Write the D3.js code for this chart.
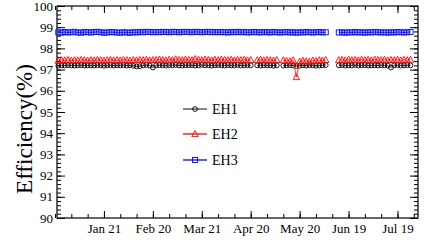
<!DOCTYPE html>
<html><head><meta charset="utf-8">
<script src="https://cdn.jsdelivr.net/npm/d3@7"></script>
<style>body{margin:0;background:#fff}svg{display:block}svg text{font-family:"Liberation Serif" !important}</style>
</head><body><svg id="c" width="425" height="243"></svg>
<script>
// day offsets from 2011-12-24
const days = [0,2,4,6,8,10,12,14,16,18,20,22,24,26,28,30,32,34,36,38,40,42,44,46,48,50,52,54,56,58,60,62,64,66,68,70,72,74,76,78,80,82,84,86,88,90,92,94,96,98,100,102,104,106,108,110,112,114,116,118,120,122,124,126,128,130,132,134,136,138,140,142,144,146,148,150,152,154,156,158,160,162,164,172,174,176,178,180,182,184,186,188,190,192,194,196,198,200,202,204,206,208,210,212,214,216];
const eh1 = [97.18,97.20,97.19,97.21,97.20,97.19,97.20,97.21,97.19,97.20,
97.20,97.19,97.21,97.20,97.18,97.20,97.21,97.19,97.20,97.20,
97.21,97.19,97.20,97.18,97.15,97.16,97.20,97.22,97.19,97.10,
97.20,97.21,97.20,97.19,97.21,97.20,97.22,97.20,97.19,97.21,
97.20,97.21,97.19,97.20,97.22,97.20,97.21,97.19,97.20,97.21,
97.20,97.19,97.21,97.20,97.20,97.22,97.19,97.20,97.21,97.20,
null,97.20,97.19,97.21,97.20,97.20,97.18,97.20,null,97.19,
97.20,97.21,97.19,97.17,97.18,97.20,97.19,97.21,97.20,97.18,
97.19,97.20,97.21,
97.20,97.21,97.19,97.20,97.20,97.22,97.19,97.20,97.21,97.19,97.20,97.20,97.19,97.21,97.20,97.19,97.10,97.20,97.21,97.19,97.20,97.21,97.20];
const eh2 = [97.42,97.45,97.44,97.46,97.43,97.45,97.44,97.46,97.45,97.43,
97.45,97.44,97.46,97.45,97.43,97.45,97.46,97.44,97.45,97.44,
97.46,97.45,97.43,97.45,97.44,97.46,97.45,97.47,97.44,97.45,
97.46,97.48,97.45,97.44,97.47,97.45,97.49,97.46,97.45,97.48,
97.46,97.45,97.50,97.47,97.45,97.48,97.46,97.44,97.47,97.45,
97.48,97.46,97.45,97.47,97.44,97.46,97.45,97.47,97.44,97.46,
null,97.45,97.47,97.44,97.46,97.45,97.43,97.46,null,97.44,
97.42,97.40,97.44,96.65,97.38,97.42,97.40,97.37,97.43,97.41,
97.45,97.43,97.46,
97.45,97.46,97.44,97.47,97.45,97.46,97.44,97.47,97.45,97.46,97.44,97.48,97.46,97.45,97.47,97.44,97.46,97.45,97.47,97.44,97.46,97.45,97.47];
const eh3 = [98.76,98.74,98.77,98.75,98.76,98.78,98.75,98.74,98.77,98.76,
98.75,98.77,98.78,98.76,98.74,98.75,98.77,98.76,98.75,98.74,
98.76,98.75,98.74,98.76,98.75,98.77,98.76,98.78,98.77,98.76,
98.77,98.76,98.78,98.77,98.76,98.78,98.77,98.76,98.77,98.78,
98.77,98.76,98.78,98.77,98.76,98.77,98.78,98.76,98.77,98.76,
98.77,98.76,98.75,98.77,98.76,98.78,98.76,98.77,98.75,98.76,
98.77,98.76,98.75,98.77,98.76,98.75,98.77,98.76,98.75,98.76,
98.77,98.75,98.76,98.74,98.76,98.75,98.77,98.76,98.75,98.76,
98.77,98.75,98.76,
98.75,98.76,98.74,98.76,98.75,98.77,98.75,98.76,98.74,98.76,98.75,98.77,98.76,98.75,98.76,98.74,98.76,98.75,98.77,98.76,98.75,98.76,98.77];
const seriesNames = ["EH1","EH2","EH3"];
const seriesColors = ["#000000","#ff0000","#0000ff"];
const majorDates = ["2012-01-21","2012-02-20","2012-03-21","2012-04-20","2012-05-20","2012-06-19","2012-07-19"];
const majorLabels = ["Jan 21","Feb 20","Mar 21","Apr 20","May 20","Jun 19","Jul 19"];
const yMajor = [90,91,92,93,94,95,96,97,98,99,100];
const yTitle = "Efficiency(%)";

const FONT = "Liberation Serif";
const svg = d3.select("#c");
const L=57, R=418, T=6, B=218;
const start = Date.UTC(2011,11,24);
const DAY = 86400000;
const toDate = d => new Date(start + d*DAY);
const x = d3.scaleUtc().domain([new Date(Date.UTC(2011,11,23,5)), new Date(Date.UTC(2012,6,31,14))]).range([L,R]);
const y = d3.scaleLinear().domain([90,100]).range([B,T]);

const majors = majorDates.map(s=>new Date(s+"T00:00:00Z"));
const minors = [];
for (let t = majors[0].getTime()-3*10*DAY; t <= x.domain()[1].getTime(); t += 10*DAY) minors.push(new Date(t));
const yMinor = d3.range(90,100.001,0.2);

function styleAxis(g){
  g.attr("font-family",null).attr("font-size",null);
  g.select(".domain").remove();
  g.selectAll("line").attr("stroke","#000").attr("stroke-width",1);
  g.selectAll("text").attr("fill","#000").style("font-family",FONT).style("font-size","13px");
}

// x axes
svg.append("g").attr("transform",`translate(0,${B})`).call(d3.axisBottom(x).tickValues(minors).tickSize(-4).tickFormat("")).call(styleAxis);
svg.append("g").attr("transform",`translate(0,${B})`).call(d3.axisBottom(x).tickValues(majors).tickSize(-7).tickPadding(6).tickFormat((d,i)=>majorLabels[i])).call(styleAxis);
svg.append("g").attr("transform",`translate(0,${T})`).call(d3.axisTop(x).tickValues(minors).tickSize(-4).tickFormat("")).call(styleAxis);
svg.append("g").attr("transform",`translate(0,${T})`).call(d3.axisTop(x).tickValues(majors).tickSize(-7).tickFormat("")).call(styleAxis);
// y axes
svg.append("g").attr("transform",`translate(${L},0)`).call(d3.axisLeft(y).tickValues(yMinor).tickSize(-4).tickFormat("")).call(styleAxis);
svg.append("g").attr("transform",`translate(${L},0)`).call(d3.axisLeft(y).tickValues(yMajor).tickSize(-8).tickPadding(4).tickFormat(d3.format("d"))).call(styleAxis);
svg.append("g").attr("transform",`translate(${R},0)`).call(d3.axisRight(y).tickValues(yMinor).tickSize(-4).tickFormat("")).call(styleAxis);
svg.append("g").attr("transform",`translate(${R},0)`).call(d3.axisRight(y).tickValues(yMajor).tickSize(-8).tickFormat("")).call(styleAxis);

svg.append("rect").attr("x",L).attr("y",T).attr("width",R-L).attr("height",B-T).attr("fill","none").attr("stroke","#000").attr("stroke-width",1.2);

svg.append("text").attr("transform",`translate(32,129) rotate(-90)`).attr("text-anchor","middle").style("font-size","23px").style("font-family",FONT).text(yTitle);

function marker(g, i, cx, cy, col){
  if(i===0) g.append("circle").attr("cx",cx).attr("cy",cy).attr("r",2.4).attr("fill","none").attr("stroke",col).attr("stroke-width",0.9);
  else if(i===1) g.append("path").attr("d",`M${cx-3.2},${cy+2.6}L${cx+3.2},${cy+2.6}L${cx},${cy-3.4}Z`).attr("fill","none").attr("stroke",col).attr("stroke-width",0.9);
  else g.append("rect").attr("x",cx-2.5).attr("y",cy-2.5).attr("width",5).attr("height",5).attr("fill","none").attr("stroke",col).attr("stroke-width",0.9);
}

const all = [eh1,eh2,eh3];
const plot = svg.append("g");
all.forEach((vals,i)=>{
  const pts = days.map((d,k)=>({d, v:vals[k]}));
  const seg1 = pts.filter(p=>p.d<=164), seg2 = pts.filter(p=>p.d>=172);
  [seg1,seg2].forEach(s=>plot.append("path").attr("d",d3.line().defined(p=>p.v!=null).x(p=>x(toDate(p.d))).y(p=>y(p.v))(s)).attr("fill","none").attr("stroke",seriesColors[i]).attr("stroke-width",0.8));
  const g = plot.append("g");
  pts.filter(p=>p.v!=null).forEach(p=>marker(g,i,x(toDate(p.d)),y(p.v),seriesColors[i]));
});

// legend
const legY = [109,134,160];
seriesNames.forEach((n,i)=>{
  const g = svg.append("g");
  g.append("line").attr("x1",183).attr("x2",207).attr("y1",legY[i]).attr("y2",legY[i]).attr("stroke",i===0?"#444":seriesColors[i]).attr("stroke-width",1.3);
  marker(g,i,195,legY[i],seriesColors[i]);
  g.append("text").attr("x",212).attr("y",legY[i]+5).style("font-size","14px").style("font-family",FONT).text(n);
});
</script></body></html>
